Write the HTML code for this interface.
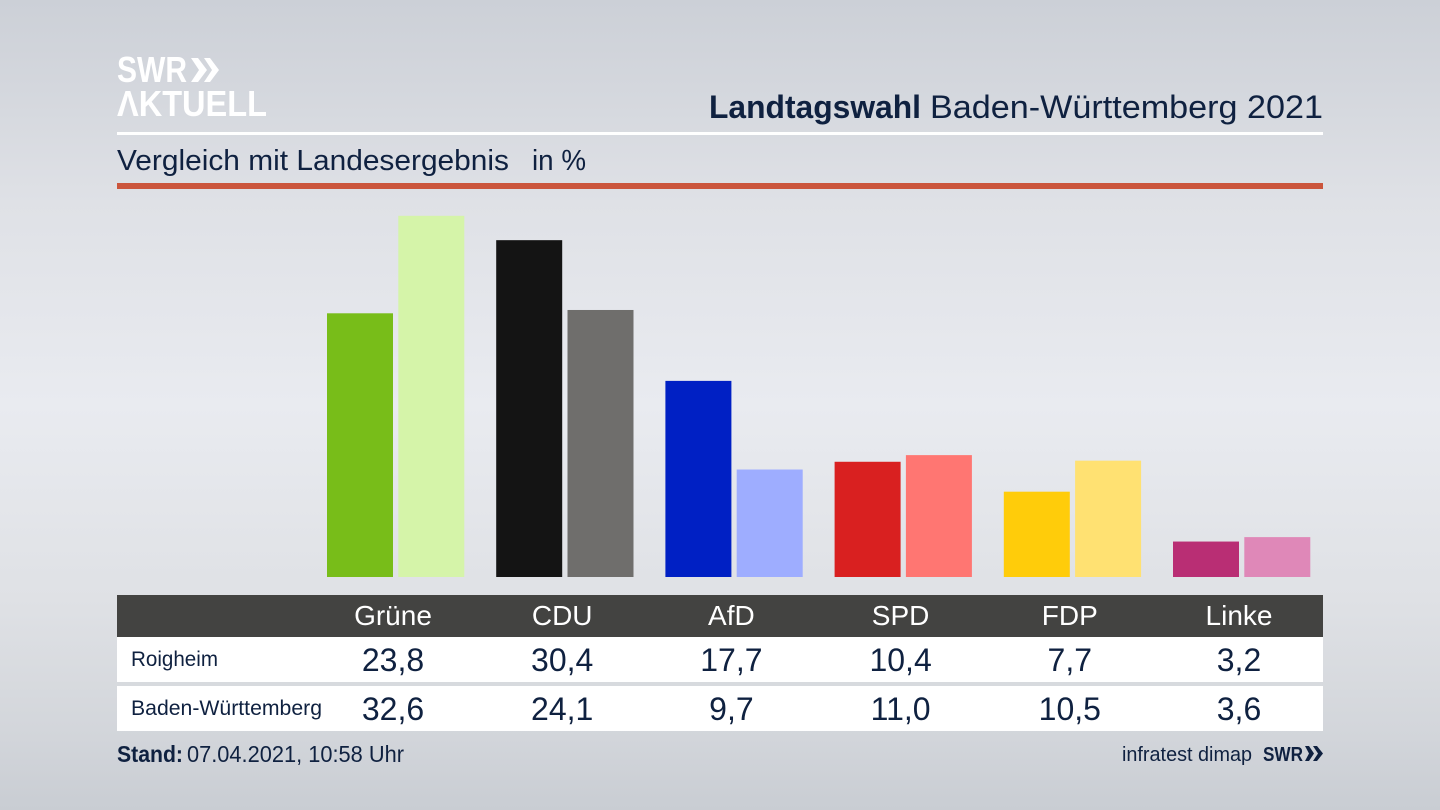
<!DOCTYPE html>
<html lang="de">
<head>
<meta charset="utf-8">
<title>Landtagswahl Baden-Württemberg 2021</title>
<style>
html,body{margin:0;padding:0;width:1440px;height:810px;overflow:hidden;background:#d5d8de}
svg{display:block}
text{font-family:"Liberation Sans",sans-serif;fill:#0f2140}
</style>
</head>
<body>
<svg id="chart" xmlns="http://www.w3.org/2000/svg" width="1440" height="810" viewBox="0 0 1440 810">
  <defs>
    <linearGradient id="bgv" x1="0" y1="0" x2="0" y2="1">
      <stop offset="0" stop-color="#ccd0d7"/>
      <stop offset="0.125" stop-color="#d5d8de"/>
      <stop offset="0.25" stop-color="#dfe1e6"/>
      <stop offset="0.5" stop-color="#e9ebf0"/>
      <stop offset="0.74" stop-color="#dfe1e5"/>
      <stop offset="0.9" stop-color="#d3d6db"/>
      <stop offset="1" stop-color="#c9cdd3"/>
    </linearGradient>
  </defs>
  <rect x="0" y="0" width="1440" height="810" fill="url(#bgv)"/>

  <g>
    <text x="117" y="82" font-size="36" font-weight="700" textLength="70" lengthAdjust="spacingAndGlyphs" style="fill:#fff">SWR</text>
    <path d="M191 58 L198 58 L207 70 L198 82 L191 82 L199 70 Z M204 58 L210 58 L219 70 L210 82 L204 82 L212 70 Z" fill="#fff"/>
    <text x="117" y="116" font-size="36" font-weight="700" textLength="150" lengthAdjust="spacingAndGlyphs" style="fill:#fff">ΛKTUELL</text>
  </g>

  <text x="709" y="118" font-size="32" font-weight="700" textLength="212" lengthAdjust="spacingAndGlyphs">Landtagswahl</text>
  <text x="930" y="118" font-size="32" textLength="393" lengthAdjust="spacingAndGlyphs">Baden-Württemberg 2021</text>
  <rect x="117" y="132" width="1206" height="3" fill="#ffffff"/>
  <text x="117" y="170" font-size="29" textLength="392" lengthAdjust="spacingAndGlyphs">Vergleich mit Landesergebnis</text>
  <text x="532" y="170" font-size="29" textLength="54" lengthAdjust="spacingAndGlyphs">in %</text>
  <rect x="117" y="183" width="1206" height="6" fill="#cb553c"/>

  <g id="bars"></g>

  <rect x="117" y="595" width="1206" height="42" fill="#434341"/>
  <rect x="117" y="637" width="1206" height="45" fill="#ffffff"/>
  <rect x="117" y="686" width="1206" height="45" fill="#ffffff"/>
  <text x="131" y="666" font-size="21" textLength="87" lengthAdjust="spacingAndGlyphs">Roigheim</text>
  <text x="131" y="715" font-size="21" textLength="191" lengthAdjust="spacingAndGlyphs">Baden-Württemberg</text>
  <g id="table"></g>

  <text x="117" y="762" font-size="23" font-weight="700" textLength="66" lengthAdjust="spacingAndGlyphs">Stand:</text>
  <text x="187" y="762" font-size="23" textLength="217" lengthAdjust="spacingAndGlyphs">07.04.2021, 10:58 Uhr</text>
  <text x="1122" y="761" font-size="20" textLength="130" lengthAdjust="spacingAndGlyphs">infratest dimap</text>
  <text x="1263" y="761" font-size="20" font-weight="700" textLength="40" lengthAdjust="spacingAndGlyphs">SWR</text>
  <path d="M1305 746 L1309 746 L1314 753.500 L1309 761 L1305 761 L1309 753.500 Z M1313 746 L1317 746 L1323 753.500 L1317 761 L1313 761 L1318 753.500 Z" fill="#0f2140"/>
</svg>
<script>
const parties = ['Grüne', 'CDU', 'AfD', 'SPD', 'FDP', 'Linke'];
const roigheim = [23.8, 30.4, 17.7, 10.4, 7.7, 3.2];
const landesergebnis = [32.6, 24.1, 9.7, 11.0, 10.5, 3.6];
const coloursLocal = ['#78bd19', '#141414', '#0020c4', '#d92020', '#ffcc0a', '#b92e74'];
const coloursState = ['#d5f4a9', '#6f6e6c', '#9eadff', '#ff7672', '#ffe172', '#df88b8'];

const svgNS = 'http://www.w3.org/2000/svg';
const baselineY = 577;
const pxPerPoint = 11.08;
const firstCentre = 393;
const groupStep = 169.2;
const barWidth = 66;
const barGap = 5.3;

function yScale(v) { return baselineY - v * pxPerPoint; }
function xCentre(i) { return firstCentre + i * groupStep; }
function fmt(v) { return v.toFixed(1).replace('.', ','); }

const barsGroup = document.getElementById('bars');
const tableGroup = document.getElementById('table');

function addBar(i, v, colour, side, name) {
  const r = document.createElementNS(svgNS, 'rect');
  const cx = xCentre(i);
  r.setAttribute('x', side < 0 ? cx - barWidth : cx + barGap);
  r.setAttribute('y', yScale(v));
  r.setAttribute('width', barWidth);
  r.setAttribute('height', baselineY - yScale(v));
  r.setAttribute('fill', colour);
  
  
  barsGroup.appendChild(r);
}

function addCell(i, y, size, label, colour, name) {
  const t = document.createElementNS(svgNS, 'text');
  t.setAttribute('x', xCentre(i));
  t.setAttribute('y', y);
  t.setAttribute('font-size', size);
  t.setAttribute('text-anchor', 'middle');
  t.style.fill = colour;
  t.textContent = label;
  
  
  tableGroup.appendChild(t);
}

parties.forEach(function (party, i) {
  const key = party.toLowerCase().replace('ü', 'ue');
  addBar(i, roigheim[i], coloursLocal[i], -1, 'bar-roigheim-' + key);
  addBar(i, landesergebnis[i], coloursState[i], 1, 'bar-land-' + key);
  addCell(i, 625, 28, party, '#ffffff', 'column-header-' + key);
  addCell(i, 671, 32, fmt(roigheim[i]), '#0f2140', 'value-roigheim-' + key);
  addCell(i, 720, 32, fmt(landesergebnis[i]), '#0f2140', 'value-land-' + key);
});
</script>
</body>
</html>
